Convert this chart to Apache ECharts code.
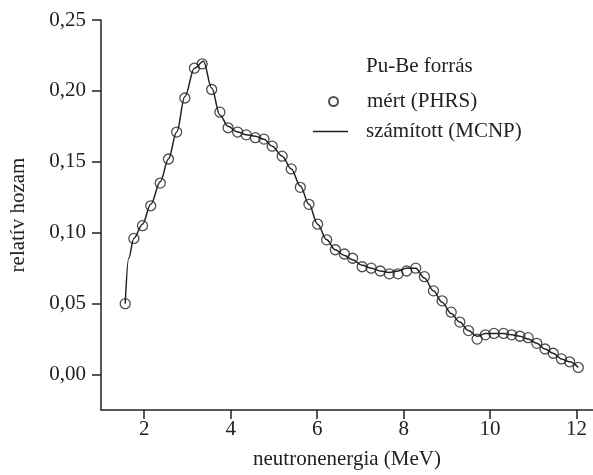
<!DOCTYPE html>
<html>
<head>
<meta charset="utf-8">
<script src="https://cdn.jsdelivr.net/npm/echarts@6/dist/echarts.min.js"></script>
<style>
html,body{margin:0;padding:0;background:#fff;}
#c{width:593px;height:475px;}
</style>
</head>
<body>
<div id="c"></div>
<script>
// Measured (PHRS) points
const measuredE = [1.56, 1.76, 1.96, 2.15, 2.37, 2.56, 2.75, 2.94, 3.16, 3.34, 3.56, 3.75, 3.94, 4.16, 4.36, 4.57, 4.77, 4.96, 5.19, 5.40, 5.61, 5.81, 6.01, 6.22, 6.42, 6.63, 6.82, 7.04, 7.25, 7.46, 7.67, 7.87, 8.07, 8.28, 8.48, 8.69, 8.89, 9.10, 9.30, 9.50, 9.70, 9.89, 10.09, 10.31, 10.50, 10.69, 10.88, 11.08, 11.27, 11.46, 11.65, 11.84, 12.04];
const measuredY = [0.050, 0.096, 0.105, 0.119, 0.135, 0.152, 0.171, 0.195, 0.216, 0.219, 0.201, 0.185, 0.174, 0.171, 0.169, 0.167, 0.166, 0.161, 0.154, 0.145, 0.132, 0.120, 0.106, 0.095, 0.088, 0.085, 0.082, 0.076, 0.075, 0.073, 0.071, 0.071, 0.073, 0.075, 0.069, 0.059, 0.052, 0.044, 0.037, 0.031, 0.025, 0.028, 0.029, 0.029, 0.028, 0.027, 0.026, 0.022, 0.018, 0.015, 0.011, 0.009, 0.005];
// Computed (MCNP) curve
const mcnpE = [1.56, 1.64, 1.76, 1.96, 2.15, 2.37, 2.56, 2.75, 2.94, 3.16, 3.37, 3.56, 3.75, 3.94, 4.16, 4.36, 4.57, 4.77, 4.96, 5.19, 5.40, 5.61, 5.81, 6.01, 6.22, 6.42, 6.63, 6.82, 7.04, 7.25, 7.46, 7.67, 7.87, 8.07, 8.28, 8.48, 8.69, 8.89, 9.10, 9.30, 9.50, 9.70, 9.89, 10.09, 10.31, 10.50, 10.69, 10.88, 11.08, 11.27, 11.46, 11.65, 11.84, 12.04];
const mcnpY = [0.050, 0.082, 0.096, 0.106, 0.120, 0.136, 0.152, 0.171, 0.196, 0.216, 0.221, 0.202, 0.183, 0.175, 0.171, 0.169, 0.168, 0.166, 0.161, 0.154, 0.145, 0.133, 0.120, 0.106, 0.095, 0.088, 0.084, 0.081, 0.077, 0.075, 0.073, 0.072, 0.073, 0.075, 0.075, 0.068, 0.059, 0.051, 0.043, 0.037, 0.031, 0.027, 0.029, 0.029, 0.029, 0.028, 0.027, 0.025, 0.022, 0.018, 0.015, 0.011, 0.009, 0.005];
const xTicks = [2, 4, 6, 8, 10, 12];
const yTicks = [0, 0.05, 0.10, 0.15, 0.20, 0.25];

const FONT = 'Liberation Serif';
const INK = '#222';
const FS = 21;

const chart = echarts.init(document.getElementById('c'), null, {renderer: 'canvas'});
chart.setOption({
  animation: false,
  backgroundColor: '#fff',
  title: {
    text: 'Pu-Be forrás', left: 366, top: 56, padding: 0,
    textStyle: {fontFamily: FONT, fontSize: FS, fontWeight: 'normal', color: INK}
  },
  legend: [
    {
      data: [{name: 'mért (PHRS)', icon: 'circle'}],
      left: 328, top: 91, padding: 0, itemWidth: 9, itemHeight: 9, selectedMode: false,
      textStyle: {fontFamily: FONT, fontSize: FS, color: INK, padding: [0, 0, 0, 24]}
    },
    {
      data: [{name: 'számított (MCNP)', icon: 'rect', itemStyle: {color: INK, borderWidth: 0}}],
      left: 313, top: 121, padding: 0, itemWidth: 35, itemHeight: 1.6, selectedMode: false,
      textStyle: {fontFamily: FONT, fontSize: FS, color: INK, padding: [0, 0, 0, 13]}
    }
  ],
  grid: {left: 99, right: 0, top: 20, bottom: 56, containLabel: false},
  xAxis: {
    type: 'value', min: 1, max: 12.38,
    name: 'neutronenergia (MeV)', nameLocation: 'middle', nameGap: 39,
    nameTextStyle: {fontFamily: FONT, fontSize: FS, color: INK},
    axisLine: {show: true, onZero: false, lineStyle: {color: INK, width: 1.5}},
    axisTick: {show: true, length: 9, inside: false, customValues: xTicks, lineStyle: {color: INK, width: 1.5}},
    axisLabel: {customValues: xTicks, margin: 9, fontFamily: FONT, fontSize: FS, color: INK},
    splitLine: {show: false}
  },
  yAxis: {
    type: 'value', min: -0.025, max: 0.25,
    name: 'relatív hozam', nameLocation: 'middle', nameGap: 72,
    nameTextStyle: {fontFamily: FONT, fontSize: FS, color: INK},
    axisLine: {show: true, onZero: false, lineStyle: {color: INK, width: 1.5}},
    axisTick: {show: true, length: 9, inside: false, customValues: yTicks, lineStyle: {color: INK, width: 1.5}},
    axisLabel: {customValues: yTicks, margin: 15, fontFamily: FONT, fontSize: FS, color: INK,
      formatter: v => v.toFixed(2).replace('.', ',')},
    splitLine: {show: false}
  },
  series: [
    {
      name: 'számított (MCNP)', type: 'line',
      data: mcnpE.map((e, i) => [e, mcnpY[i]]),
      symbol: 'none', smooth: 0.35, smoothMonotone: 'x',
      lineStyle: {color: INK, width: 1.5}, itemStyle: {color: INK}, z: 2
    },
    {
      name: 'mért (PHRS)', type: 'scatter',
      data: measuredE.map((e, i) => [e, measuredY[i]]),
      symbol: 'circle', symbolSize: 10,
      itemStyle: {color: 'rgba(255,255,255,0)', borderColor: INK, borderWidth: 1.3}, z: 3
    }
  ]
});
</script>
</body>
</html>
